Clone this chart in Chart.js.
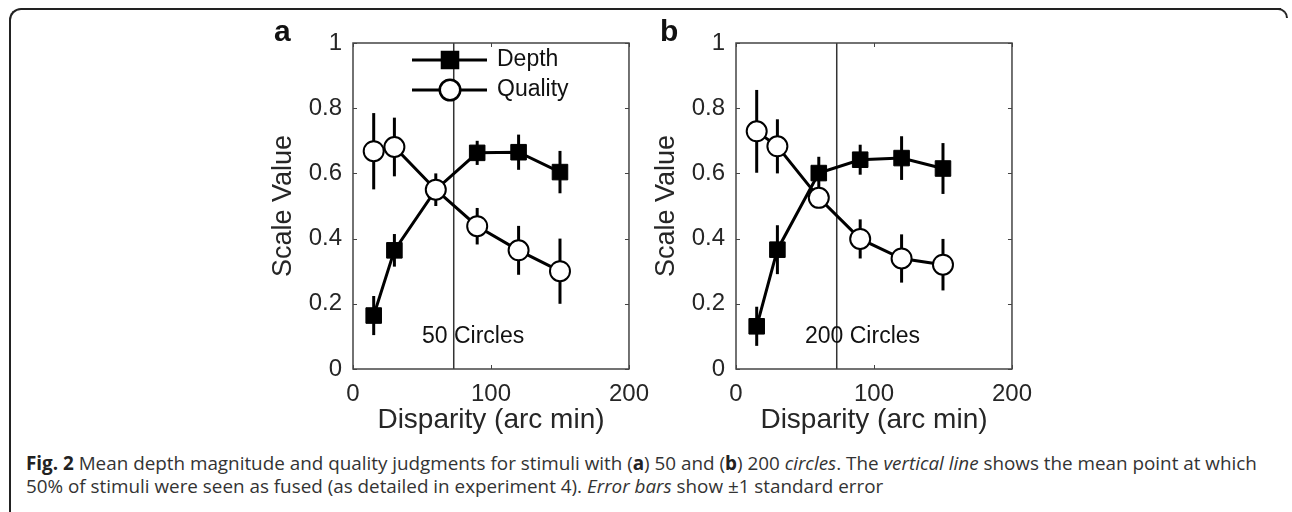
<!DOCTYPE html>
<html>
<head>
<meta charset="utf-8">
<script src="https://cdn.jsdelivr.net/npm/chart.js@4/dist/chart.umd.min.js"></script>
<style>
  html, body { margin: 0; padding: 0; background: #fff; }
  body { width: 1292px; height: 512px; position: relative; overflow: hidden; }
  .frame { position: absolute; left: 9px; top: 8px; width: 1270px; height: 520px;
           border-top: 2px solid #222; border-left: 2px solid #222; border-top-left-radius: 12px; }
  .corner { position: absolute; left: 1276px; top: 8px; width: 10px; height: 8px;
            border-top: 2px solid #222; border-right: 2px solid #222; border-top-right-radius: 10px; }
  canvas { position: absolute; top: 0; }
  #chartA { left: 230px; }
  #chartB { left: 613px; }
  .letter { position: absolute; font: bold 30px "Liberation Sans", Arial, sans-serif; color: #111; }
  .caption { position: absolute; left: 26px; top: 452px; font: 18.85px "Open Sans", sans-serif;
             line-height: 23px; color: #333; white-space: nowrap; }
  .caption b { color: #222; }
</style>
</head>
<body>
<div class="frame"></div>
<div class="corner"></div>
<canvas id="chartA" width="430" height="450"></canvas>
<canvas id="chartB" width="430" height="450"></canvas>
<div class="letter" style="left:274px; top:14px;">a</div>
<div class="letter" style="left:660px; top:14px;">b</div>
<div class="caption"><b>Fig. 2</b> Mean depth magnitude and quality judgments for stimuli with (<b>a</b>) 50 and (<b>b</b>) 200 <i>circles</i>. The <i>vertical line</i> shows the mean point at which<br>50% of stimuli were seen as fused (as detailed in experiment 4). <i>Error bars</i> show ±1 standard error</div>

<script>
// disparity values (arc min)
const disparity = [15, 30, 60, 90, 120, 150];

// panel a: 50 circles
const depthA = [0.164, 0.364, 0.55, 0.663, 0.665, 0.604];
const depthErrA = [0.06, 0.05, 0.05, 0.037, 0.054, 0.065];
const qualityA = [0.668, 0.681, 0.55, 0.438, 0.364, 0.30];
const qualityErrA = [0.117, 0.09, 0.03, 0.056, 0.075, 0.10];

// panel b: 200 circles
const depthB = [0.131, 0.366, 0.601, 0.642, 0.647, 0.615];
const depthErrB = [0.06, 0.075, 0.05, 0.046, 0.067, 0.078];
const qualityB = [0.729, 0.683, 0.525, 0.399, 0.339, 0.32];
const qualityErrB = [0.127, 0.083, 0.03, 0.06, 0.074, 0.079];

// mean 50% fusion point
const fusedPoint = 73;

const xTicks = [0, 100, 200];
const xTickLabels = ['0', '100', '200'];
const yTicks = [0, 0.2, 0.4, 0.6, 0.8, 1];
const yTickLabels = ['0', '0.2', '0.4', '0.6', '0.8', '1'];

const FONT = '"Liberation Sans", Arial, sans-serif';
const AXIS_COLOR = '#444';
const TEXT_COLOR = '#262626';

function toPoints(values) {
    return disparity.map((x, i) => ({ x: x, y: values[i] }));
}

// error bars, drawn under each dataset
const errorBarPlugin = {
    id: 'errorBars',
    beforeDatasetDraw(chart, args) {
        const ds = chart.data.datasets[args.index];
        if (!ds.errors) return;
        const { ctx, scales: { x, y } } = chart;
        ctx.save();
        ctx.strokeStyle = '#000';
        ctx.lineWidth = 3;
        ds.data.forEach((p, i) => {
            const px = x.getPixelForValue(p.x);
            ctx.beginPath();
            ctx.moveTo(px, y.getPixelForValue(p.y - ds.errors[i]));
            ctx.lineTo(px, y.getPixelForValue(p.y + ds.errors[i]));
            ctx.stroke();
        });
        ctx.restore();
    }
};

// MATLAB style box, inward ticks, fusion line, label and legend
const framePlugin = {
    id: 'frame',
    beforeDatasetsDraw(chart) {
        const { ctx, chartArea: a, scales: { x, y } } = chart;
        const opts = chart.options.plugins.frame;
        ctx.save();
        // vertical line
        const vx = x.getPixelForValue(fusedPoint);
        ctx.strokeStyle = '#333';
        ctx.lineWidth = 1.5;
        ctx.beginPath();
        ctx.moveTo(vx, a.top);
        ctx.lineTo(vx, a.bottom);
        ctx.stroke();
        // panel label
        ctx.fillStyle = '#111';
        ctx.font = '23px ' + FONT;
        ctx.textAlign = 'left';
        ctx.textBaseline = 'middle';
        ctx.fillText(opts.label, x.getPixelForValue(50), y.getPixelForValue(0.1));
        ctx.restore();
    },
    afterDraw(chart) {
        const { ctx, chartArea: a, scales: { x, y } } = chart;
        const opts = chart.options.plugins.frame;
        ctx.save();
        ctx.strokeStyle = AXIS_COLOR;
        ctx.lineWidth = 1.5;
        ctx.strokeRect(a.left, a.top, a.right - a.left, a.bottom - a.top);
        ctx.lineWidth = 1;
        ctx.beginPath();
        xTicks.forEach(v => {
            const px = Math.round(x.getPixelForValue(v)) + 0.5;
            ctx.moveTo(px, a.bottom); ctx.lineTo(px, a.bottom - 4);
            ctx.moveTo(px, a.top); ctx.lineTo(px, a.top + 4);
        });
        yTicks.forEach(v => {
            const py = Math.round(y.getPixelForValue(v)) + 0.5;
            ctx.moveTo(a.left, py); ctx.lineTo(a.left + 4, py);
            ctx.moveTo(a.right, py); ctx.lineTo(a.right - 4, py);
        });
        ctx.stroke();

        if (opts.legend) {
            const items = chart.data.datasets.slice().sort((p, q) => q.order - p.order);
            items.forEach((ds, i) => {
                const ly = a.top + 17 + i * 30;
                const x0 = a.left + 59, x1 = a.left + 134, xm = a.left + 97;
                ctx.strokeStyle = '#000';
                ctx.lineWidth = 3;
                ctx.beginPath();
                ctx.moveTo(x0, ly); ctx.lineTo(x1, ly);
                ctx.stroke();
                Chart.helpers.drawPoint(ctx, {
                    pointStyle: ds.pointStyle, radius: ds.pointRadius, borderWidth: ds.pointBorderWidth
                }, xm, ly);
                ctx.fillStyle = ds.pointBackgroundColor;
                ctx.strokeStyle = '#000';
                ctx.lineWidth = ds.pointBorderWidth;
                ctx.fill();
                ctx.stroke();
                ctx.fillStyle = '#111';
                ctx.font = '23px ' + FONT;
                ctx.textAlign = 'left';
                ctx.textBaseline = 'middle';
                ctx.fillText(ds.label, a.left + 144, ly);
            });
        }
        ctx.restore();
    }
};

function makeChart(id, depth, depthErr, quality, qualityErr, label, legend) {
    return new Chart(document.getElementById(id), {
        type: 'scatter',
        data: {
            datasets: [
                {
                    label: 'Depth', data: toPoints(depth), errors: depthErr, order: 2,
                    showLine: true, borderColor: '#000', borderWidth: 3,
                    pointStyle: 'rect', pointRadius: 11, pointBackgroundColor: '#000',
                    pointBorderColor: '#000', pointBorderWidth: 1
                },
                {
                    label: 'Quality', data: toPoints(quality), errors: qualityErr, order: 1,
                    showLine: true, borderColor: '#000', borderWidth: 3,
                    pointStyle: 'circle', pointRadius: 10, pointBackgroundColor: '#fff',
                    pointBorderColor: '#000', pointBorderWidth: 2
                }
            ]
        },
        options: {
            responsive: false,
            animation: false,
            layout: { padding: { left: 0, top: 43, right: 31, bottom: 0 } },
            plugins: {
                legend: { display: false },
                tooltip: { enabled: false },
                frame: { label: label, legend: legend }
            },
            scales: {
                x: {
                    type: 'linear', min: 0, max: 200,
                    afterFit: s => { s.height = 81; },
                    afterBuildTicks: s => { s.ticks = xTicks.map(v => ({ value: v })); },
                    grid: { display: false, drawTicks: false },
                    border: { display: false },
                    ticks: {
                        padding: 11, color: TEXT_COLOR, font: { family: FONT, size: 24 },
                        callback: v => xTickLabels[xTicks.indexOf(v)]
                    },
                    title: {
                        display: true, text: 'Disparity (arc min)', color: TEXT_COLOR,
                        font: { family: FONT, size: 28 }, padding: { top: 0, bottom: 13 }
                    }
                },
                y: {
                    type: 'linear', min: 0, max: 1,
                    afterFit: s => { s.width = 123; },
                    afterBuildTicks: s => { s.ticks = yTicks.map(v => ({ value: v })); },
                    grid: { display: false, drawTicks: false },
                    border: { display: false },
                    ticks: {
                        padding: 11, color: TEXT_COLOR, font: { family: FONT, size: 24 },
                        callback: v => yTickLabels[yTicks.indexOf(v)]
                    },
                    title: {
                        display: true, text: 'Scale Value', color: TEXT_COLOR,
                        font: { family: FONT, size: 27 }, padding: { top: 37, bottom: 0 }
                    }
                }
            }
        },
        plugins: [errorBarPlugin, framePlugin]
    });
}

makeChart('chartA', depthA, depthErrA, qualityA, qualityErrA, '50 Circles', true);
makeChart('chartB', depthB, depthErrB, qualityB, qualityErrB, '200 Circles', false);
</script>
</body>
</html>
